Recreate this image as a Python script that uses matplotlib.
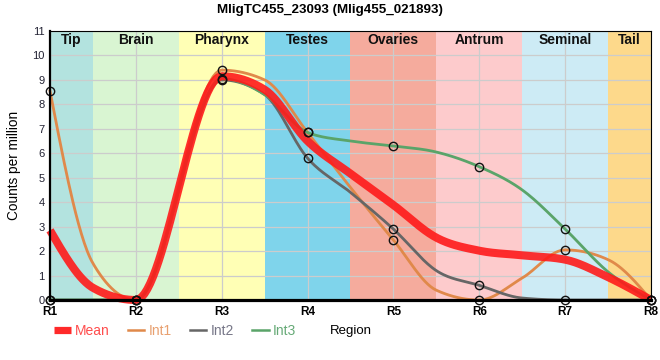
import numpy as np
import matplotlib
matplotlib.use("Agg")
import matplotlib.pyplot as plt
from matplotlib.lines import Line2D

plt.rcParams['font.family'] = ['Liberation Sans', 'DejaVu Sans']

# data
regions = ["R1", "R2", "R3", "R4", "R5", "R6", "R7", "R8"]
tissues = ["Tip", "Brain", "Pharynx", "Testes", "Ovaries", "Antrum", "Seminal", "Tail"]
# curves are read at every region and at the band edges (nan = not read)
nan = np.nan
pos = [0, 0.5, 1, 1.5, 2, 2.5, 3, 3.5, 4, 4.5, 5, 5.5, 6, 6.5, 7]
int1 = [8.55, 1.5, 0.0, nan, 9.4, 9.0, 6.85, 4.6, 2.45, 0.4, 0.0, 0.9, 2.05, 1.65, 0.0]
int2 = [0.0, 0.0, 0.0, nan, 9.0, 8.4, 5.8, 4.4, 2.9, 1.2, 0.6, 0.08, 0.0, 0.0, 0.0]
int3 = [0.0, 0.0, 0.0, nan, 9.05, 8.4, 6.85, 6.5, 6.3, 6.05, 5.45, 4.5, 2.9, 1.15, 0.0]
mean = np.mean([int1, int2, int3], axis=0)

band_colors = ["#b3e3df", "#d9f5d2", "#ffffb5", "#7fd4eb",
               "#f5ab9d", "#fdcbcc", "#cdebf5", "#fdd98b"]


def monotone(xs, ys, n=30):
    # monotone cubic (d3 curveMonotoneX style) through the points
    xs = np.asarray(xs, dtype=float)
    ys = np.asarray(ys, dtype=float)
    ok = np.isfinite(ys)
    xs, ys = xs[ok], ys[ok]
    h = np.diff(xs)
    d = np.diff(ys) / h
    m = np.zeros(len(ys))
    for k in range(1, len(ys) - 1):
        s0, s1 = d[k - 1], d[k]
        p = (s0 * h[k] + s1 * h[k - 1]) / (h[k - 1] + h[k])
        m[k] = (np.sign(s0) + np.sign(s1)) * min(abs(s0), abs(s1), 0.5 * abs(p))
    m[0] = (3 * d[0] - m[1]) / 2
    m[-1] = (3 * d[-1] - m[-2]) / 2
    px, py = [], []
    for k in range(len(ys) - 1):
        t = np.linspace(0, 1, n, endpoint=(k == len(ys) - 2))
        h00 = 2 * t**3 - 3 * t**2 + 1
        h10 = t**3 - 2 * t**2 + t
        h01 = -2 * t**3 + 3 * t**2
        h11 = t**3 - t**2
        px.append(xs[k] + t * h[k])
        py.append(h00 * ys[k] + h10 * h[k] * m[k] + h01 * ys[k + 1] + h11 * h[k] * m[k + 1])
    return np.concatenate(px), np.concatenate(py)


fig = plt.figure(figsize=(6.6, 3.6), dpi=100)
ax = fig.add_axes([50 / 660, 60 / 360, 601 / 660, 269 / 360])
x = np.arange(len(regions))

for i, (name, col) in enumerate(zip(tissues, band_colors)):
    ax.axvspan(i - 0.5, i + 0.5, color=col, lw=0, zorder=0)
    lo, hi = max(i - 0.5, 0), min(i + 0.5, len(regions) - 1)
    ax.text((lo + hi) / 2, 10.62, name, ha="center", va="center",
            fontsize=10, fontweight="bold", color="#111111", zorder=5)

series = [(int1, "#e0894a", "Int1"), (int2, "#666666", "Int2"), (int3, "#5aa469", "Int3")]
for vals, col, lab in series:
    cx, cy = monotone(pos, vals)
    ax.plot(cx, cy, color=col, lw=2.0, zorder=3, clip_on=False)

mx, my = monotone(pos, mean)
ax.plot(mx, my, color="#ff1a1a", lw=5.8, alpha=0.9, zorder=4, clip_on=False,
        solid_capstyle="butt")

# open markers only at the region positions
for vals, col, lab in series:
    ax.plot(pos[::2], vals[::2], ls="none", marker="o", ms=6, mfc="none",
            mec="#111111", mew=1.0, zorder=6, clip_on=False)

ax.set_xlim(0, len(regions) - 1)
ax.set_ylim(0, 11)
ax.set_xticks(x)
ax.set_xticklabels(regions, fontsize=8.5, fontweight="bold")
ax.set_yticks(range(0, 12))
ax.tick_params(axis="y", length=0, pad=4, labelsize=8, labelcolor="#222233")
ax.tick_params(axis="x", length=0, pad=4)
ax.set_axisbelow(True)
ax.grid(True, color="#cccccc", lw=0.9)

ax.spines["left"].set_linewidth(1.6)
ax.spines["bottom"].set_linewidth(2.3)
ax.spines["top"].set_linewidth(0.8)
ax.spines["right"].set_linewidth(0.8)
for s in ax.spines.values():
    s.set_zorder(7)

ax.set_ylabel("Counts per million", fontsize=9.8, labelpad=8)
fig.text(351 / 660, 1 - 331 / 360, "Region", ha="center", va="center", fontsize=9.5)
fig.text(0.5, 1 - 10 / 360, "MligTC455_23093 (Mlig455_021893)", ha="center",
         va="center", fontsize=9.6, fontweight="bold")

handles = [Line2D([], [], color="#ff2a2a", lw=5.2, solid_capstyle="butt"),
           Line2D([], [], color="#e0894a", lw=1.8),
           Line2D([], [], color="#666666", lw=1.8),
           Line2D([], [], color="#5aa469", lw=1.8)]
leg = fig.legend(handles, ["Mean", "Int1", "Int2", "Int3"], loc="center left",
                 bbox_to_anchor=(54 / 660, 1 - 331 / 360), ncol=4, frameon=False,
                 fontsize=10, handlelength=1.2, handletextpad=0.3,
                 columnspacing=1.3, borderpad=0, borderaxespad=0)
for txt, c in zip(leg.get_texts(), ["#ff4d4d", "#e8a070", "#777788", "#66aa77"]):
    txt.set_color(c)

fig.savefig("out.png", dpi=100)
